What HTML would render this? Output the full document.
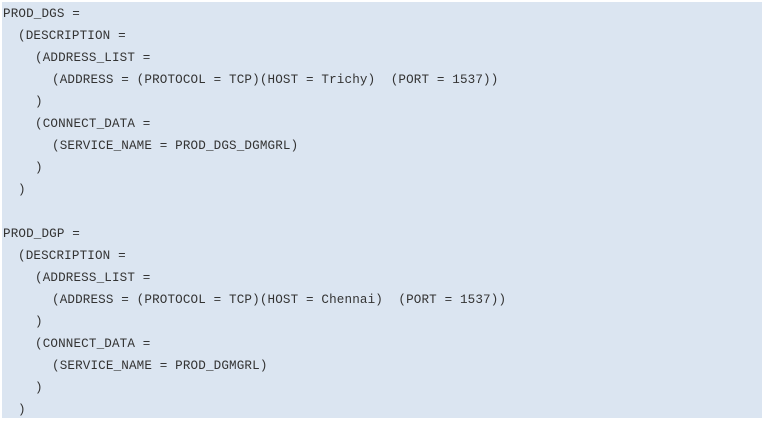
<!DOCTYPE html>
<html><head><style>
body{margin:0;width:763px;height:424px;background:#fff;overflow:hidden;position:relative}
.box{position:absolute;left:2px;top:2px;width:760px;height:416px;background:#dbe5f1}
.t{position:absolute;left:3px;top:3px;margin:0;font-family:"Liberation Mono",monospace;font-size:12.6px;line-height:22px;color:#333;letter-spacing:0.14px}
.t div{height:22px;white-space:pre}
.l1{padding-left:15px}.l2{padding-left:32px}.l3{padding-left:49px}
</style></head><body><div class="box"></div>
<div class="t"><div>PROD_DGS =</div><div class="l1">(DESCRIPTION =</div><div class="l2">(ADDRESS_LIST =</div><div class="l3">(ADDRESS = (PROTOCOL = TCP)(HOST = Trichy)  (PORT = 1537))</div><div class="l2">)</div><div class="l2">(CONNECT_DATA =</div><div class="l3">(SERVICE_NAME = PROD_DGS_DGMGRL)</div><div class="l2">)</div><div class="l1">)</div><div></div><div>PROD_DGP =</div><div class="l1">(DESCRIPTION =</div><div class="l2">(ADDRESS_LIST =</div><div class="l3">(ADDRESS = (PROTOCOL = TCP)(HOST = Chennai)  (PORT = 1537))</div><div class="l2">)</div><div class="l2">(CONNECT_DATA =</div><div class="l3">(SERVICE_NAME = PROD_DGMGRL)</div><div class="l2">)</div><div class="l1">)</div></div>
</body></html>
